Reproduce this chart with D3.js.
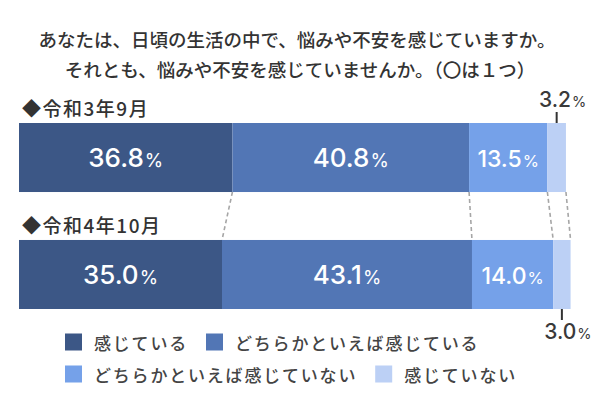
<!DOCTYPE html>
<html><head><meta charset="utf-8">
<script src="https://cdn.jsdelivr.net/npm/d3@7"></script>
<style>
html,body{margin:0;padding:0;background:#fff;}
svg{display:block;font-family:"Noto Sans CJK JP","Noto Sans",sans-serif;}
.num{font-family:Inter,"Noto Sans CJK JP",sans-serif;}
</style></head>
<body>
<svg id="chart" width="600" height="400"></svg>
<script>
const titleLines = ["あなたは、日頃の生活の中で、悩みや不安を感じていますか。", "それとも、悩みや不安を感じていませんか。（〇は１つ）"];
const periods = ["◆令和3年9月", "◆令和4年10月"];
const categories = ["感じている", "どちらかといえば感じている", "どちらかといえば感じていない", "感じていない"];
const colors = ["#3c5786", "#5276b5", "#75a1e9", "#bcd0f5"];
const valuesR3 = [36.8, 40.8, 13.5, 3.2];
const valuesR4 = [35.0, 43.1, 14.0, 3.0];
const seriesValues = [valuesR3, valuesR4];

const svg = d3.select("#chart");
const x = d3.scaleLinear().domain([0, 100]).range([19, 599]);
const y = d3.scaleBand().domain(periods).range([123, 309]).paddingInner(0.41);

// title
svg.selectAll("text.title").data(titleLines).join("text")
  .attr("class", "title")
  .attr("x", (d, i) => i === 0 ? 297 : 300)
  .attr("y", (d, i) => 39 + i * 30)
  .attr("text-anchor", "middle")
  .attr("dominant-baseline", "central")
  .attr("font-size", 18.5)
  .attr("font-weight", 500)
  .attr("fill", "#333")
  .text(d => d);

// stacked data
const rows = periods.map((p, pi) => {
  let acc = 0;
  return seriesValues[pi].map((v, ci) => {
    const seg = { period: p, cat: ci, value: v, x0: acc, x1: acc + v };
    acc += v;
    return seg;
  });
});

// period labels
svg.selectAll("text.period").data(periods).join("text")
  .attr("class", "period")
  .attr("x", 22)
  .attr("y", d => y(d) - 15.5)
  .attr("dominant-baseline", "central")
  .attr("font-size", 19)
  .attr("letter-spacing", 1.5)
  .attr("font-weight", 500)
  .attr("fill", "#333")
  .text(d => d);

// dashed connectors between bars
const boundaries = d3.range(1, 5).map(k => ({
  a: rows[0][k - 1].x1, b: rows[1][k - 1].x1
}));
svg.selectAll("line.conn").data(boundaries).join("line")
  .attr("class", "conn")
  .attr("x1", d => x(d.a)).attr("y1", y(periods[0]) + y.bandwidth())
  .attr("x2", d => x(d.b)).attr("y2", y(periods[1]))
  .attr("stroke", "#a6a6a6").attr("stroke-width", 1.6)
  .attr("stroke-dasharray", "4,3");

// bars
const g = svg.selectAll("g.row").data(rows).join("g").attr("class", "row");
g.selectAll("rect").data(d => d).join("rect")
  .attr("x", d => x(d.x0))
  .attr("y", d => y(d.period))
  .attr("width", d => x(d.x1) - x(d.x0))
  .attr("height", y.bandwidth())
  .attr("fill", d => colors[d.cat]);

// inside labels (first three)
const fmt = d3.format(".1f");
g.selectAll("text.val").data(d => d.filter(s => s.cat < 3)).join("text")
  .attr("class", "val num")
  .attr("x", d => (x(d.x0) + x(d.x1)) / 2)
  .attr("y", d => y(d.period) + y.bandwidth() / 2 + 9.5)
  .attr("text-anchor", "middle")
  .attr("fill", "#fff")
  .each(function(d) {
    const t = d3.select(this);
    const big = d.cat === 2 ? 23 : 26;
    t.append("tspan").attr("font-size", big).attr("font-weight", 500).text(fmt(d.value));
    t.append("tspan").attr("font-size", big * 0.72).attr("font-weight", 400).attr("dx", 1).text("%");
  });

// outside labels for smallest segment
const small = rows.map((r, i) => ({ seg: r[3], above: i === 0 }));
small.forEach(s => {
  const cx = (x(s.seg.x0) + x(s.seg.x1)) / 2;
  const top = y(s.seg.period);
  const bot = top + y.bandwidth();
  svg.append("line")
    .attr("x1", cx).attr("x2", cx)
    .attr("y1", s.above ? top - 11 : bot)
    .attr("y2", s.above ? top : bot + 11)
    .attr("stroke", "#333").attr("stroke-width", 2);
  const t = svg.append("text")
    .attr("class", "num")
    .attr("x", cx + 6)
    .attr("y", s.above ? top - 16 : bot + 30)
    .attr("text-anchor", "middle")
    .attr("fill", "#3a3a3a");
  t.append("tspan").attr("font-size", 21).attr("font-weight", 500).text(fmt(s.seg.value));
  t.append("tspan").attr("font-size", 14.5).attr("font-weight", 400).attr("dx", 1).text("%");
});

// legend
const legendRows = [[0, 1], [2, 3]];
legendRows.forEach((row, ri) => {
  let lx = 65;
  const ly = 342 + ri * 32;
  row.forEach(ci => {
    svg.append("rect").attr("x", lx).attr("y", ly - 8.5)
      .attr("width", 17).attr("height", 17).attr("fill", colors[ci]);
    const t = svg.append("text")
      .attr("x", lx + 29).attr("y", ly)
      .attr("dominant-baseline", "central")
      .attr("font-size", 17).attr("letter-spacing", 1.8)
      .attr("font-weight", 500)
      .attr("fill", "#444")
      .text(categories[ci]);
    lx = lx + 29 + t.node().getComputedTextLength() + 18;
  });
});
</script>
</body></html>
